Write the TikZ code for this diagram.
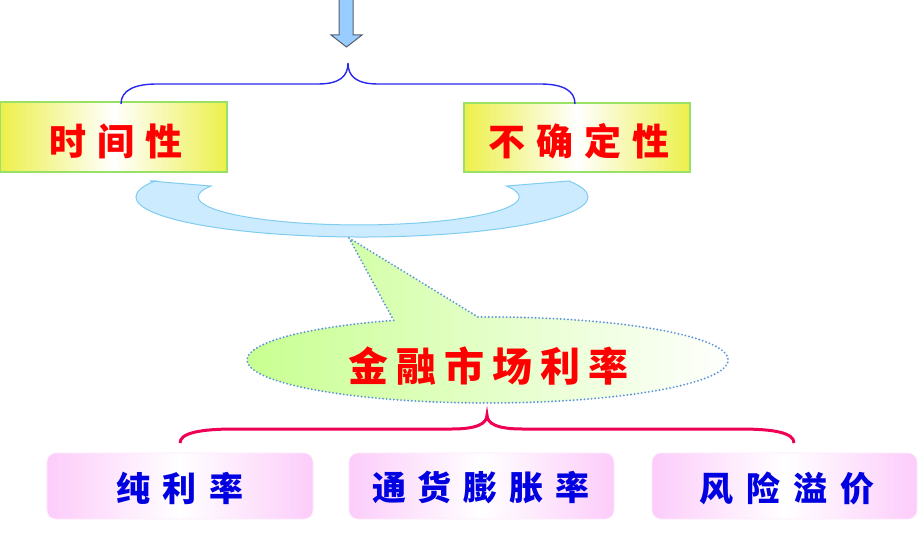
\documentclass[tikz,border=0pt]{standalone}
\usepackage{fontspec}
\newfontfamily\cjk{Noto Sans CJK SC}
\usetikzlibrary{calc}
\definecolor{yel}{HTML}{ECF04A}
\definecolor{boxgreen}{HTML}{99E066}
\definecolor{pinkc}{HTML}{FCCCFA}
\definecolor{crescfill}{HTML}{CCEBFF}
\definecolor{crescline}{HTML}{80CCF0}
\definecolor{callg}{HTML}{C8FF90}
\definecolor{dotblue}{HTML}{5E94DA}
\definecolor{arrowblue}{HTML}{99CCFF}
\definecolor{arrowgray}{HTML}{556070}
\definecolor{braceblue}{HTML}{2828EE}
\definecolor{bracered}{HTML}{EE0055}
\definecolor{txtred}{HTML}{FF0000}
\definecolor{txtblue}{HTML}{0000E0}
\newcommand\gp[1]{\hspace{#1bp}}
\begin{document}
\begin{tikzpicture}[x=1bp,y=-1bp,
  ybox/.style={draw=boxgreen, line width=1.5bp, left color=yel, right color=yel, middle color=white, minimum width=227bp, minimum height=70bp, inner sep=0pt},
  pbox/.style={draw=pinkc!40, line width=0.6bp, rounded corners=9bp, left color=pinkc, right color=pinkc, middle color=white, minimum width=265bp, minimum height=66bp, inner sep=0pt},
  redtxt/.style={text=txtred, font=\cjk\bfseries\fontsize{37bp}{40bp}\selectfont, inner sep=0pt},
  bigred/.style={text=txtred, font=\cjk\bfseries\fontsize{40bp}{44bp}\selectfont, inner sep=0pt},
  bluetxt/.style={text=txtblue, font=\cjk\bfseries\fontsize{34bp}{38bp}\selectfont, inner sep=0pt},
  bracelineA/.style={draw=braceblue, line width=1.4bp},
  bracelineB/.style={draw=bracered, line width=3bp},
]
\useasboundingbox[fill=white] (0,0) rectangle (918,544);

% top arrow
\path[fill=arrowblue, draw=arrowgray, line width=1bp, line join=miter]
  (339,-1) -- (339,35) -- (331,35) -- (346.5,47) -- (362,35) -- (353,35) -- (353,-1) -- cycle;

% boxes
\node[ybox] (t1) at (113.5,137) {};
\node[ybox, minimum width=226bp, minimum height=69bp] (t2) at (577,137.5) {};
\node[redtxt] (t1text) at (116,141) {时\gp{11}间\gp{11}性};
\node[redtxt] (t2text) at (579,141) {不\gp{11}确\gp{11}定\gp{11}性};

% top brace
\coordinate (tbL) at (121,104);
\coordinate (tbR) at (575,104);
\coordinate (tbP) at (348,63);
\draw[bracelineA] (tbL) .. controls (121,90) and (135,84) .. (157,84) -- (318,84)
  .. controls (340,84) and (348,76) .. (tbP)
  .. controls (348,76) and (356,84) .. (378,84) -- (540,84)
  .. controls (562,84) and (575,90) .. (tbR);

% crescent
\path[draw=crescline, fill=crescfill, line width=1bp]
  (150,181) -- (211,186) arc[start angle=203, end angle=-23, x radius=160.5, y radius=28]
  -- (569,181) arc[start angle=-23.6, end angle=203.6, x radius=226, y radius=40] -- cycle;

% callout
\path[draw=dotblue, line width=2.1bp, line cap=round, dash pattern=on 0bp off 3.6bp,
      left color=callg, right color=white]
  (349,238) -- (478,317) arc[start angle=-92.3, end angle=247, x radius=240.5, y radius=43] -- cycle;
\node[bigred] (cm) at (488,366) {金\gp{8}融\gp{8}市\gp{8}场\gp{8}利\gp{8}率};

% bottom brace
\coordinate (bbL) at (180,443);
\coordinate (bbR) at (794,443);
\coordinate (bbP) at (487,415);
\draw[bracelineB] (bbL) .. controls (180,433) and (200,429) .. (235,429) -- (452,429)
  .. controls (476,429) and (487,424) .. (bbP)
  .. controls (487,424) and (498,429) .. (522,429) -- (740,429)
  .. controls (775,429) and (794,433) .. (bbR);

% bottom boxes
\node[pbox, minimum width=266bp] (b1) at (180,486) {};
\node[pbox] (b2) at (481.5,486) {};
\node[pbox] (b3) at (784.5,486) {};
\node[bluetxt] (b1t) at (180,488) {纯\gp{13}利\gp{13}率};
\node[bluetxt] (b2t) at (481,488) {通\gp{12}货\gp{12}膨\gp{12}胀\gp{12}率};
\node[bluetxt] (b3t) at (787,488) {风\gp{13}险\gp{13}溢\gp{13}价};
\end{tikzpicture}
\end{document}
